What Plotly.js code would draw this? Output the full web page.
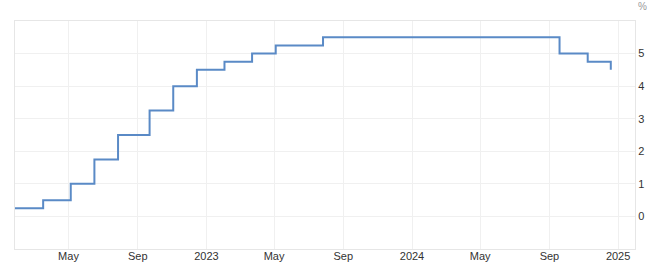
<!DOCTYPE html>
<html>
<head>
<meta charset="utf-8">
<script src="https://cdn.plot.ly/plotly-3.0.1.min.js"></script>
<style>html,body{margin:0;padding:0;background:#fff;}#chart{width:650px;height:266px;}</style>
</head>
<body>
<div id="chart"></div>
<script>
const dates = ['2022-01-26','2022-03-17','2022-05-05','2022-06-16','2022-07-28','2022-09-22','2022-11-03','2022-12-15','2023-02-02','2023-03-23','2023-05-04','2023-07-27','2024-09-19','2024-11-08','2024-12-19'];
const rates = [0.25,0.5,1.0,1.75,2.5,3.25,4.0,4.5,4.75,5.0,5.25,5.5,5.0,4.75,4.5];
const xTickVals = ['2022-05-01','2022-09-01','2023-01-01','2023-05-01','2023-09-01','2024-01-01','2024-05-01','2024-09-01','2025-01-01'];
const xTickText = ['May','Sep','2023','May','Sep','2024','May','Sep','2025'];
const yTickVals = [0,1,2,3,4,5];

const trace = {
  x: dates, y: rates, type: 'scatter', mode: 'lines',
  line: {shape: 'hv', color: '#5a8ac6', width: 2},
  hoverinfo: 'skip'
};
const layout = {
  width: 650, height: 266,
  margin: {l: 15, r: 15, t: 21, b: 17},
  paper_bgcolor: '#fff', plot_bgcolor: '#fff',
  showlegend: false,
  font: {family: 'Liberation Sans, Arial, sans-serif', size: 11, color: '#333'},
  xaxis: {
    type: 'date', range: ['2022-01-26','2025-01-31'],
    tickvals: xTickVals, ticktext: xTickText,
    showgrid: true, gridcolor: '#f0f0f0', gridwidth: 1,
    showline: true, linecolor: '#e6e6e6', linewidth: 1, mirror: true,
    zeroline: false, ticks: '', ticklabelstandoff: -3,
    tickfont: {size: 11, color: '#333'}
  },
  yaxis: {
    range: [-1, 6], side: 'right', tickvals: yTickVals,
    showgrid: true, gridcolor: '#f0f0f0', gridwidth: 1,
    showline: true, linecolor: '#e6e6e6', linewidth: 1, mirror: true,
    zeroline: false, ticks: '', tickfont: {size: 11, color: '#333'}
  },
  annotations: [{
    text: '%', xref: 'paper', yref: 'paper', x: 1, y: 1,
    xanchor: 'left', yanchor: 'bottom', xshift: 1, yshift: 7,
    showarrow: false, font: {size: 10, color: '#999'}
  }]
};
Plotly.newPlot('chart', [trace], layout, {staticPlot: true, displayModeBar: false});
</script>
</body>
</html>
